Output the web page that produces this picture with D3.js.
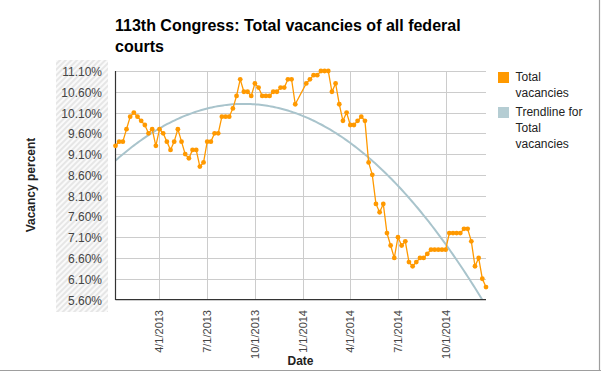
<!DOCTYPE html>
<html>
<head>
<meta charset="utf-8">
<script src="https://cdn.jsdelivr.net/npm/d3@7"></script>
<style>
  html, body { margin: 0; padding: 0; background: #fff; }
  svg { display: block; font-family: "Liberation Sans", Arial, sans-serif; }
</style>
</head>
<body>
<svg id="chart" width="601" height="372"></svg>
<script>
// ---- data ----
const dates = [
  "2013-01-08","2013-01-15","2013-01-22","2013-01-29","2013-02-05","2013-02-12","2013-02-19","2013-02-26",
  "2013-03-05","2013-03-12","2013-03-19","2013-03-26","2013-04-02","2013-04-09","2013-04-16","2013-04-23",
  "2013-04-30","2013-05-07","2013-05-14","2013-05-21","2013-05-28","2013-06-04","2013-06-11","2013-06-18",
  "2013-06-25","2013-07-02","2013-07-09","2013-07-16","2013-07-23","2013-07-30","2013-08-06","2013-08-13",
  "2013-08-20","2013-08-27","2013-09-03","2013-09-10","2013-09-17","2013-09-24","2013-10-01","2013-10-08",
  "2013-10-15","2013-10-22","2013-10-29","2013-11-05","2013-11-12","2013-11-19","2013-11-26","2013-12-03",
  "2013-12-10","2013-12-17",
  "2014-01-07","2014-01-14","2014-01-21","2014-01-28","2014-02-04","2014-02-11","2014-02-18","2014-02-25",
  "2014-03-04","2014-03-11","2014-03-18","2014-03-25","2014-04-01","2014-04-08","2014-04-15","2014-04-22",
  "2014-04-29","2014-05-06","2014-05-13","2014-05-20","2014-05-27","2014-06-03","2014-06-10","2014-06-17",
  "2014-06-24","2014-07-01","2014-07-08","2014-07-15","2014-07-22","2014-07-29","2014-08-05","2014-08-12",
  "2014-08-19","2014-08-26","2014-09-02","2014-09-09","2014-09-16","2014-09-23","2014-09-30","2014-10-07",
  "2014-10-14","2014-10-21","2014-10-28","2014-11-04","2014-11-11","2014-11-18","2014-11-25","2014-12-02",
  "2014-12-09","2014-12-16"
];
const vacancies = [
  9.3, 9.4, 9.4, 9.7, 10.0, 10.1, 10.0, 9.9, 9.8, 9.6,
  9.7, 9.3, 9.7, 9.6, 9.4, 9.2, 9.4, 9.7, 9.4, 9.1,
  9.0, 9.2, 9.2, 8.8, 8.9, 9.4, 9.4, 9.6, 9.6, 10.0,
  10.0, 10.0, 10.2, 10.5, 10.9, 10.6, 10.6, 10.5, 10.8, 10.7,
  10.5, 10.5, 10.5, 10.6, 10.6, 10.7, 10.7, 10.9, 10.9, 10.3,
  10.8, 10.9, 11.0, 11.0, 11.1, 11.1, 11.1, 10.6, 10.8, 10.3,
  9.9, 10.1, 9.8, 9.8, 9.9, 10.0, 9.9, 8.9, 8.6, 7.9,
  7.7, 7.9, 7.2, 6.9, 6.6, 7.1, 6.9, 7.0, 6.5, 6.4,
  6.5, 6.6, 6.6, 6.7, 6.8, 6.8, 6.8, 6.8, 6.8, 7.2,
  7.2, 7.2, 7.2, 7.3, 7.3, 7.0, 6.4, 6.6, 6.1, 5.9
];
const yTicks = [5.6, 6.1, 6.6, 7.1, 7.6, 8.1, 8.6, 9.1, 9.6, 10.1, 10.6, 11.1];
const xTicks = ["2013-04-01","2013-07-01","2013-10-01","2014-01-01","2014-04-01","2014-07-01","2014-10-01"];
const titleLines = ["113th Congress: Total vacancies of all federal", "courts"];
const seriesNames = [["Total", "vacancies"], ["Trendline for", "Total", "vacancies"]];

// ---- setup ----
const parse = d3.timeParse("%Y-%m-%d");
const pts = dates.map((d, i) => ({ date: parse(d), v: vacancies[i] }));
const svg = d3.select("#chart");

const plot = { left: 115.5, right: 486, top: 71, bottom: 299.5 };
const x = d3.scaleTime().domain(d3.extent(pts, d => d.date)).range([plot.left, plot.right]);
const y = d3.scaleLinear().domain([5.6, 11.1]).range([plot.bottom, plot.top]);

const orange = "#ff9900";
const trendColor = "#a9c4cc";

// border (shadow lines right and bottom)
svg.append("line").attr("x1", 0).attr("x2", 601).attr("y1", 370.5).attr("y2", 370.5)
  .attr("stroke", "#9e9e9e").attr("stroke-width", 1.2);
svg.append("line").attr("x1", 599.5).attr("x2", 599.5).attr("y1", 0).attr("y2", 371)
  .attr("stroke", "#9e9e9e").attr("stroke-width", 1.2);

// hatch pattern
const defs = svg.append("defs");
const pat = defs.append("pattern").attr("id", "hatch").attr("patternUnits", "userSpaceOnUse")
  .attr("width", 4).attr("height", 4).attr("patternTransform", "rotate(45)");
pat.append("rect").attr("width", 4).attr("height", 4).attr("fill", "#fafafa");
pat.append("line").attr("x1", 1).attr("x2", 1).attr("y1", 0).attr("y2", 4)
  .attr("stroke", "#dedede").attr("stroke-width", 1.4);
defs.append("clipPath").attr("id", "plotclip").append("rect")
  .attr("x", plot.left).attr("y", plot.top - 5).attr("width", plot.right - plot.left + 6)
  .attr("height", plot.bottom - plot.top + 5);

svg.append("rect").attr("x", 56).attr("y", 60).attr("width", 52).attr("height", 252)
  .attr("fill", "url(#hatch)");

// title
svg.append("g").selectAll("text").data(titleLines).join("text")
  .attr("x", 115).attr("y", (d, i) => 31 + i * 21)
  .attr("font-size", 16).attr("font-weight", "bold").attr("fill", "#000")
  .text(d => d);

// grid
svg.append("g").selectAll("line").data(yTicks).join("line")
  .attr("x1", plot.left).attr("x2", plot.right)
  .attr("y1", d => Math.round(y(d)) + 0.5).attr("y2", d => Math.round(y(d)) + 0.5)
  .attr("stroke", "#cccccc").attr("stroke-width", 1);
svg.append("g").selectAll("line").data(xTicks).join("line")
  .attr("x1", d => Math.round(x(parse(d))) + 0.5).attr("x2", d => Math.round(x(parse(d))) + 0.5)
  .attr("y1", plot.top).attr("y2", plot.bottom)
  .attr("stroke", "#cccccc").attr("stroke-width", 1);

// y tick labels
svg.append("g").selectAll("text").data(yTicks).join("text")
  .attr("x", 102).attr("y", d => y(d) + 5)
  .attr("text-anchor", "end").attr("font-size", 12).attr("fill", "#444")
  .text(d => d.toFixed(2) + "%");

// x tick labels
svg.append("g").selectAll("text").data(xTicks).join("text")
  .attr("transform", d => `translate(${x(parse(d)) + 4},310) rotate(-90)`)
  .attr("text-anchor", "end").attr("font-size", 11).attr("fill", "#444")
  .text(d => { const t = parse(d); return (t.getMonth() + 1) + "/" + t.getDate() + "/" + t.getFullYear(); });

// axis titles
svg.append("text").attr("transform", "translate(35,185) rotate(-90)")
  .attr("text-anchor", "middle").attr("font-size", 12).attr("font-weight", "bold").attr("fill", "#222")
  .text("Vacancy percent");
svg.append("text").attr("x", 300.5).attr("y", 365)
  .attr("text-anchor", "middle").attr("font-size", 12).attr("font-weight", "bold").attr("fill", "#222")
  .text("Date");

// trendline: quadratic least-squares fit of the series
const t0 = pts[0].date.getTime();
const xs = pts.map(p => (p.date.getTime() - t0) / 864e5 / 100);
const ys = pts.map(p => p.v);
function fitPoly(xs, ys, deg) {
  const n = deg + 1;
  const A = Array.from({ length: n }, () => new Array(n + 1).fill(0));
  for (let k = 0; k < xs.length; k++) {
    for (let i = 0; i < n; i++) {
      for (let j = 0; j < n; j++) A[i][j] += Math.pow(xs[k], i + j);
      A[i][n] += ys[k] * Math.pow(xs[k], i);
    }
  }
  for (let i = 0; i < n; i++) {
    let p = i;
    for (let r = i + 1; r < n; r++) if (Math.abs(A[r][i]) > Math.abs(A[p][i])) p = r;
    [A[i], A[p]] = [A[p], A[i]];
    for (let r = 0; r < n; r++) {
      if (r === i) continue;
      const f = A[r][i] / A[i][i];
      for (let c = i; c <= n; c++) A[r][c] -= f * A[i][c];
    }
  }
  return A.map((row, i) => row[n] / row[i]);
}
const coef = fitPoly(xs, ys, 2);
const trendPts = d3.range(0, 201).map(i => {
  const tx = xs[0] + (xs[xs.length - 1] - xs[0]) * i / 200;
  return { date: new Date(t0 + tx * 100 * 864e5), v: coef[0] + coef[1] * tx + coef[2] * tx * tx };
});
svg.append("path").datum(trendPts)
  .attr("clip-path", "url(#plotclip)")
  .attr("fill", "none").attr("stroke", trendColor).attr("stroke-width", 2)
  .attr("d", d3.line().x(d => x(d.date)).y(d => y(d.v)));

// axes lines
svg.append("line").attr("x1", plot.left).attr("x2", plot.left).attr("y1", plot.top).attr("y2", plot.bottom + 0.5)
  .attr("stroke", "#333").attr("stroke-width", 1.2);
svg.append("line").attr("x1", plot.left).attr("x2", plot.right).attr("y1", plot.bottom).attr("y2", plot.bottom)
  .attr("stroke", "#333").attr("stroke-width", 1.2);

// data line + points
svg.append("path").datum(pts)
  .attr("fill", "none").attr("stroke", orange).attr("stroke-width", 1.3)
  .attr("d", d3.line().x(d => x(d.date)).y(d => y(d.v)));
svg.append("g").selectAll("circle").data(pts).join("circle")
  .attr("cx", d => x(d.date)).attr("cy", d => y(d.v)).attr("r", 2.4)
  .attr("fill", orange);

// legend
const legendColors = [orange, "#b5cdd3"];
const lg = svg.append("g");
let ly = 72;
seriesNames.forEach((lines, i) => {
  lg.append("rect").attr("x", 498).attr("y", ly).attr("width", 11).attr("height", 11)
    .attr("fill", legendColors[i]);
  lines.forEach((t, j) => {
    lg.append("text").attr("x", 515.5).attr("y", ly + 9.3 + j * 15.8)
      .attr("font-size", 12).attr("fill", "#222").text(t);
  });
  ly += lines.length * 15.8 + 3.4;
});
</script>
</body>
</html>
